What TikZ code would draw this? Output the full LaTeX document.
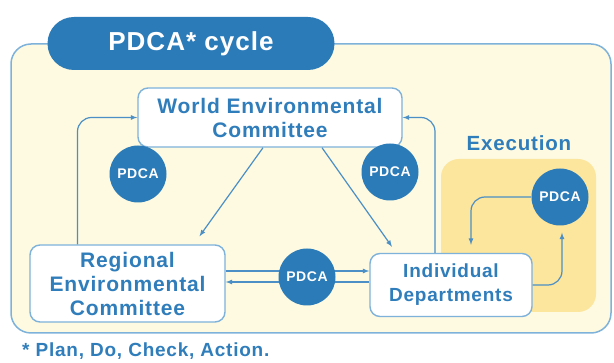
\documentclass[tikz,border=0pt]{standalone}
\usepackage{fontspec}
\setmainfont{Liberation Sans}
\newfontfamily\lblfont[LetterSpace=4]{Liberation Sans}
\usetikzlibrary{arrows}

\definecolor{pdcablue}{HTML}{2B7BB9}
\definecolor{txtblue}{HTML}{2F7DBB}
\definecolor{lineblue}{HTML}{4B8FC6}
\definecolor{rimblue}{HTML}{7EB2DA}
\definecolor{cream}{HTML}{FDFAE1}
\definecolor{gold}{HTML}{FCE59C}

\begin{document}
\begin{tikzpicture}[>=latex,x=1pt,y=-1pt,
    box/.style={draw=rimblue,line width=1.4pt,fill=white,rounded corners=10pt,
      align=center,text=txtblue,font=\lblfont\bfseries\fontsize{21}{24}\selectfont,inner sep=0pt},
    pdca/.style={circle,fill=pdcablue,text=white,minimum size=57pt,inner sep=0pt,
      font=\lblfont\bfseries\fontsize{14}{14}\selectfont},
    link/.style={draw=lineblue,line width=1.2pt}]
  \useasboundingbox (0,0) rectangle (614,363);
  % frame and title
  \draw[rimblue,fill=cream,line width=1.5pt,rounded corners=20pt] (11,44) rectangle (611,333);
  \node[fill=pdcablue,rounded corners=26.5pt,minimum width=287pt,minimum height=53pt,
    text=white,font=\lblfont\bfseries\fontsize{26}{26}\selectfont] (title) at (191,43.5) {PDCA* cycle};
  % execution area
  \fill[gold,rounded corners=18pt] (441,159) rectangle (596,312);
  \node[text=txtblue,font=\lblfont\bfseries\fontsize{20.5}{20}\selectfont] (exec) at (519,143) {Execution};
  % committees
  \node[box,minimum width=264pt,minimum height=59pt] (world) at (270,117.5) {World Environmental\\Committee};
  \node[box,minimum width=195pt,minimum height=77pt] (regional) at (127.5,283.5) {Regional\\Environmental\\Committee};
  \node[box,minimum width=162pt,minimum height=63pt,font=\lblfont\bfseries\fontsize{19}{24}\selectfont]
    (indiv) at (451,285) {Individual\\Departments};
  % connectors
  \draw[link,->] ([xshift=-7pt]world.south) -- ([xshift=72pt,yshift=8pt]regional.north);
  \draw[link,->] ([xshift=52pt]world.south) -- ([xshift=-59pt,yshift=6pt]indiv.north);
  \draw[link,->,rounded corners=14pt] ([xshift=-50pt]regional.north) |- (world.west);
  \draw[link,->,rounded corners=14pt] ([xshift=-16pt]indiv.north) |- (world.east);
  \draw[link,->] ([yshift=12.5pt]regional.east) -- ([yshift=12.5pt]regional.east -| indiv.west);
  \draw[link,<-] ([yshift=1.5pt]regional.east) -- ([yshift=1.5pt]regional.east -| indiv.west);
  \node[pdca] (pdcaW) at (138,174) {PDCA};
  \node[pdca] (pdcaI) at (390,172) {PDCA};
  \node[pdca] (pdcaR) at (307,277) {PDCA};
  \node[pdca] (pdcaE) at (560,197) {PDCA};
  \draw[link,->,rounded corners=14pt] (pdcaE.west) -| ([xshift=20pt,yshift=8pt]indiv.north);
  \draw[link,->,rounded corners=14pt] (indiv.east) -| ([xshift=2pt,yshift=-7pt]pdcaE.south);
  % footnote
  \node[anchor=base west,inner sep=0pt,text=txtblue,font=\lblfont\bfseries\fontsize{19}{19}\selectfont]
    (note) at (22,357) {* Plan, Do, Check, Action.};
\end{tikzpicture}
\end{document}
